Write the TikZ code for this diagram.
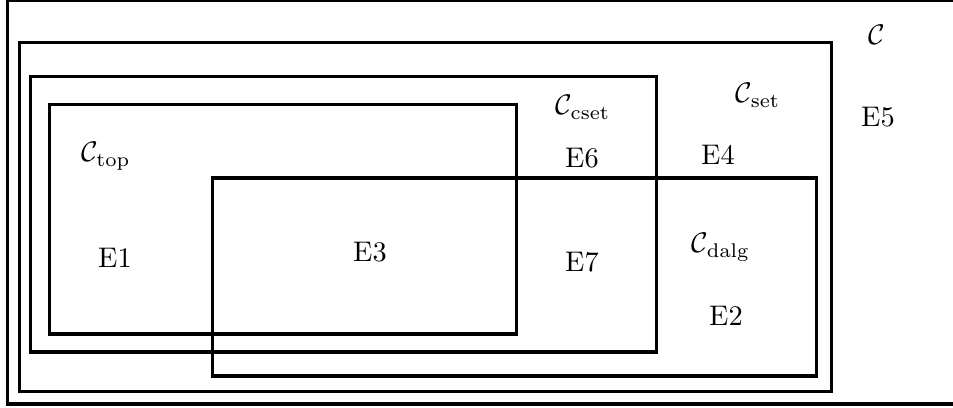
\documentclass[tikz,border=0pt]{standalone}
\usepackage{amssymb}
\usepackage{tikz}
\begin{document}
\begin{tikzpicture}[x=0.37pt, y=-0.37pt, every node/.style={anchor=base, inner sep=0pt, outer sep=0pt, scale=1.05}, region/.style={line width=1.3pt}]
\useasboundingbox (0,0) rectangle (953,408);
\clip (0,0) rectangle (953,408);

\draw[region] (7.5,0.5) rectangle (960,404);
\draw[region] (19.5,42.5) rectangle (831.5,391.5);
\draw[region] (30.5,76.5) rectangle (656.5,352);
\draw[region] (49.5,104.5) rectangle (516.5,334);
\draw[region] (212.5,178) rectangle (816.5,376);

\node (C) at (877,45) {$\mathcal{C}$};
\node (Cset) at (758,103) {$\mathcal{C}_{\mathrm{set}}$};
\node (Ccset) at (583,115) {$\mathcal{C}_{\mathrm{cset}}$};
\node (Ctop) at (106,162) {$\mathcal{C}_{\mathrm{top}}$};
\node (Cdalg) at (721,253) {$\mathcal{C}_{\mathrm{dalg}}$};

\node (E1) at (115,268) {E1};
\node (E2) at (726,326) {E2};
\node (E3) at (370,262) {E3};
\node (E4) at (718,165) {E4};
\node (E5) at (878,127) {E5};
\node (E6) at (582,168) {E6};
\node (E7) at (582,272) {E7};
\end{tikzpicture}
\end{document}
